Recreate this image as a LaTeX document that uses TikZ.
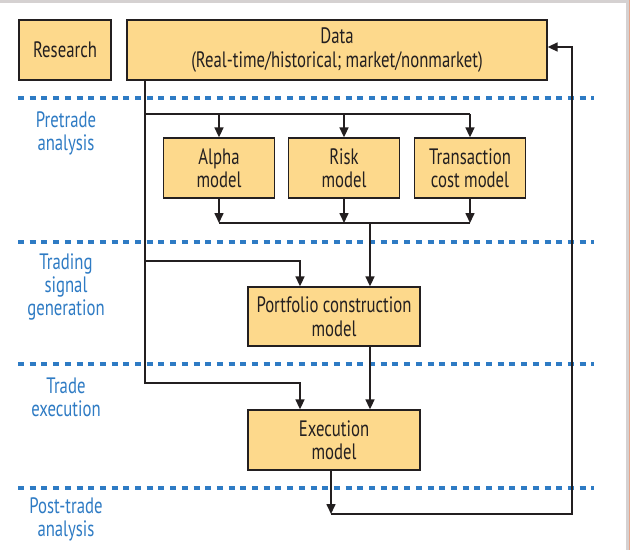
\documentclass[tikz,border=0pt]{standalone}
\usepackage{fontspec}
\setmainfont[FakeStretch=0.75]{PT Sans}
\usetikzlibrary{arrows.meta}
\definecolor{boxfill}{HTML}{FDD98C}
\definecolor{ink}{HTML}{231F20}
\definecolor{phase}{HTML}{2E7BC4}
\definecolor{frame}{HTML}{D5D1D1}
\definecolor{edge}{HTML}{E9A58A}
\begin{document}
\begin{tikzpicture}[x=1pt,y=-1pt,
  box/.style={draw=ink,line width=1.3pt,fill=boxfill,inner sep=0pt,align=center,
    font=\fontsize{22.3}{23.5}\selectfont,text=ink},
  wire/.style={draw=ink,line width=1.6pt},
  arr/.style={wire,-{Triangle[length=10pt,width=9pt]}},
  sep/.style={draw=phase,line width=3.5pt,dash pattern=on 6pt off 5.7pt},
  phaselabel/.style={text=phase,align=center,font=\fontsize{22.3}{23}\selectfont}]
\useasboundingbox (0,0) rectangle (630,550);
\fill[white] (0,0) rectangle (630,550);
\fill[frame] (0,0) rectangle (630,3);
\fill[frame] (626,0) rectangle (630,550);
\draw[edge,line width=0.8pt] (629.4,0) -- (629.4,550);

% phase separators
\foreach \yy in {98,242,364,488} \draw[sep] (18,\yy) -- (594,\yy);

% phase labels
\node[phaselabel] (l1) at (66,133) {Pretrade\\analysis};
\node[phaselabel] (l2) at (66,287) {Trading\\signal\\generation};
\node[phaselabel] (l3) at (66,397) {Trade\\execution};
\node[phaselabel] (l4) at (66,519) {Post-trade\\analysis};

% boxes
\node[box,minimum width=92pt,minimum height=60pt] (research) at (65,50) {Research};
\node[box,minimum width=420pt,minimum height=60pt] (data) at (337,50) {Data\\(Real-time/historical; market/nonmarket)};
\node[box,minimum width=111pt,minimum height=60pt] (alpha) at (219,168) {Alpha\\model};
\node[box,minimum width=111pt,minimum height=60pt] (risk) at (344,168) {Risk\\model};
\node[box,minimum width=111pt,minimum height=60pt] (trans) at (470,168) {Transaction\\cost model};
\node[box,minimum width=172pt,minimum height=59pt] (pf) at (334,316.5) {Portfolio construction\\model};
\node[box,minimum width=172pt,minimum height=60pt] (exec) at (334,440) {Execution\\model};

% helper coordinates
\coordinate (t1) at (145,114);
\coordinate (t2) at (145,261);
\coordinate (t3) at (145,383);
\coordinate (r1) at (470,114);
\coordinate (bl) at (219,223);
\coordinate (br) at (470,223);
\coordinate (bj) at (370,223);
\coordinate (pin) at (300,0);
\coordinate (fx) at (331,514);
\coordinate (fb) at (572,514);

% connectors
\draw[arr] (data.south -| t1) -- (t3) -| (exec.north -| pin);
\draw[wire] (t1) -- (r1);
\draw[arr] (t1 -| alpha) -- (alpha.north);
\draw[arr] (t1 -| risk) -- (risk.north);
\draw[arr] (r1) -- (trans.north);
\draw[arr] (alpha.south) -- (bl -| alpha);
\draw[arr] (risk.south) -- (bl -| risk);
\draw[arr] (trans.south) -- (br);
\draw[wire] (bl) -- (br);
\draw[arr] (bj) -- (pf.north -| bj);
\draw[arr] (t2) -| (pf.north -| pin);
\draw[arr] (pf.south -| bj) -- (exec.north -| bj);
\draw[arr] (exec.south -| fx) -- (fx);
\draw[arr] (fx) -- (fb) |- ([yshift=3pt]data.east);
\end{tikzpicture}
\end{document}
